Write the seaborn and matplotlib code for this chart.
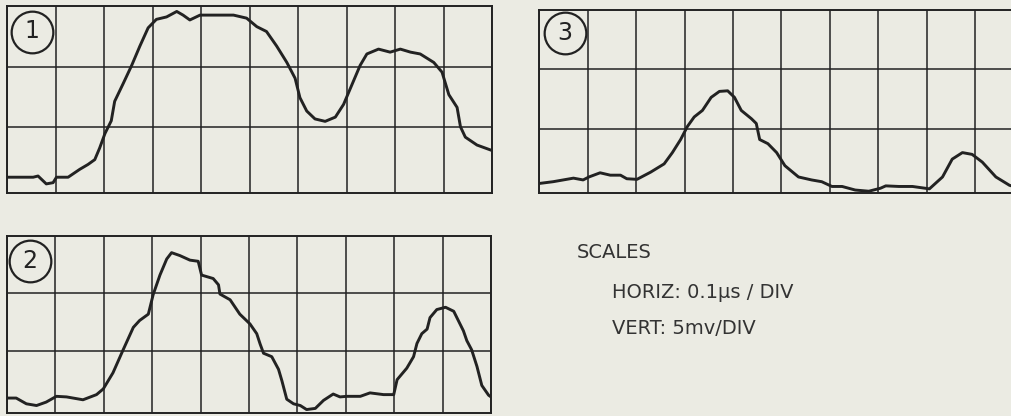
import matplotlib
matplotlib.use("Agg")
import matplotlib.pyplot as plt
import seaborn as sns
import pandas as pd

# trace 1 (grid divisions: x 0-10, y 0-3)
t1_x = [0, 0.54, 0.64, 0.81, 0.95, 1.02, 1.26, 1.50, 1.67, 1.81, 1.91, 2.02, 2.15, 2.22,
        2.40, 2.57, 2.74, 2.91, 3.08, 3.29, 3.50, 3.63, 3.77, 3.98, 4.32, 4.67, 4.94, 5.15,
        5.35, 5.56, 5.77, 5.94, 6.04, 6.18, 6.35, 6.56, 6.77, 6.94, 7.11, 7.28, 7.42, 7.66,
        7.90, 8.11, 8.32, 8.52, 8.80, 8.97, 9.11, 9.28, 9.35, 9.45, 9.69, 10.0]
t1_y = [0.18, 0.18, 0.20, 0.07, 0.09, 0.18, 0.18, 0.31, 0.39, 0.47, 0.66, 0.90, 1.11, 1.43,
        1.73, 2.02, 2.34, 2.64, 2.78, 2.82, 2.91, 2.85, 2.77, 2.85, 2.85, 2.85, 2.80, 2.66,
        2.58, 2.34, 2.07, 1.81, 1.49, 1.27, 1.14, 1.10, 1.17, 1.38, 1.70, 2.02, 2.21, 2.29,
        2.24, 2.29, 2.24, 2.21, 2.07, 1.91, 1.54, 1.33, 1.01, 0.84, 0.71, 0.62]

# trace 2
t2_x = [0, 0.19, 0.40, 0.61, 0.81, 1.02, 1.23, 1.57, 1.85, 1.99, 2.19, 2.40, 2.61, 2.74,
        2.92, 3.02, 3.16, 3.30, 3.40, 3.57, 3.78, 3.95, 4.02, 4.26, 4.37, 4.40, 4.61, 4.81,
        5.02, 5.16, 5.23, 5.30, 5.47, 5.61, 5.68, 5.78, 5.92, 6.06, 6.19, 6.37, 6.54, 6.74,
        6.88, 7.02, 7.30, 7.50, 7.78, 7.99, 8.06, 8.26, 8.40, 8.47, 8.57, 8.68, 8.74, 8.88,
        9.06, 9.23, 9.33, 9.43, 9.50, 9.60, 9.71, 9.81, 9.95, 10.0]
t2_y = [0.18, 0.18, 0.08, 0.05, 0.11, 0.21, 0.20, 0.15, 0.24, 0.34, 0.62, 1.02, 1.41, 1.53,
        1.64, 1.98, 2.32, 2.60, 2.71, 2.66, 2.58, 2.56, 2.32, 2.26, 2.15, 1.99, 1.89, 1.64,
        1.47, 1.30, 1.12, 0.96, 0.90, 0.68, 0.48, 0.16, 0.08, 0.05, -0.02, 0.0, 0.14, 0.25,
        0.20, 0.21, 0.21, 0.27, 0.24, 0.24, 0.50, 0.70, 0.90, 1.13, 1.30, 1.38, 1.58, 1.72,
        1.76, 1.69, 1.52, 1.35, 1.18, 1.02, 0.73, 0.40, 0.23, 0.20]

# trace 3
t3_x = [0, 0.29, 0.71, 0.91, 1.03, 1.26, 1.47, 1.68, 1.81, 2.02, 2.30, 2.58, 2.75, 2.92,
        3.06, 3.20, 3.37, 3.55, 3.72, 3.89, 4.03, 4.17, 4.38, 4.48, 4.55, 4.72, 4.90, 5.07,
        5.35, 5.62, 5.83, 6.04, 6.25, 6.52, 6.80, 7.04, 7.15, 7.42, 7.70, 8.05, 8.32, 8.52,
        8.73, 8.93, 9.14, 9.42, 9.70, 9.90]
t3_y = [0.08, 0.11, 0.17, 0.14, 0.19, 0.26, 0.22, 0.22, 0.16, 0.15, 0.27, 0.41, 0.60, 0.82,
        1.04, 1.20, 1.31, 1.53, 1.63, 1.64, 1.53, 1.31, 1.17, 1.09, 0.82, 0.75, 0.60, 0.38,
        0.19, 0.14, 0.11, 0.03, 0.03, -0.03, -0.05, 0.0, 0.04, 0.03, 0.03, -0.01, 0.19, 0.49,
        0.60, 0.57, 0.44, 0.19, 0.05, 0.0]

labels = ["1", "2", "3"]
scale_lines = ["SCALES", "HORIZ: 0.1\u03bcs / DIV", "VERT: 5mv/DIV"]

sns.set_style("white")
plt.rcParams['font.family'] = ['DejaVu Sans']

bg = "#ebebe3"
ink = "#222222"

fig = plt.figure(figsize=(10.12, 4.16), dpi=100, facecolor=bg)

# axes boxes in figure fractions (panel 3 runs past the right edge like the scan)
boxes = [
    [7 / 1012, 1 - 193 / 416, 485 / 1012, 187 / 416],
    [7 / 1012, 1 - 413 / 416, 484 / 1012, 177 / 416],
    [539 / 1012, 1 - 193 / 416, 485 / 1012, 183 / 416],
]
traces = [(t1_x, t1_y), (t2_x, t2_y), (t3_x, t3_y)]
circ_pos = [(0.52, 2.58), (0.48, 2.56), (0.54, 2.62)]

for box, (tx, ty), lab, (cx, cy) in zip(boxes, traces, labels, circ_pos):
    ax = fig.add_axes(box)
    ax.set_facecolor(bg)
    df = pd.DataFrame({"x": tx, "y": ty})
    sns.lineplot(data=df, x="x", y="y", ax=ax, color=ink, linewidth=2.1,
                 estimator=None, sort=False)
    ax.set_xlim(0, 10)
    ax.set_ylim(-0.08, 3)
    ax.set_xticks(range(11))
    ax.set_yticks([1, 2])
    ax.grid(True, color=ink, linewidth=1.1)
    ax.tick_params(length=0, labelbottom=False, labelleft=False)
    ax.set_xlabel("")
    ax.set_ylabel("")
    for sp in ax.spines.values():
        sp.set_visible(True)
        sp.set_color(ink)
        sp.set_linewidth(1.4)
    ax.plot([cx], [cy], marker="o", markersize=30, mfc="none", mec=ink, mew=1.6)
    ax.text(cx, cy, lab, ha="center", va="center", fontsize=17, color=ink)

# scales note
fig.text(577 / 1012, 1 - 252 / 416, scale_lines[0], ha="left", va="center",
         fontsize=14, color="#333333")
fig.text(612 / 1012, 1 - 292 / 416, scale_lines[1], ha="left", va="center",
         fontsize=14, color="#333333")
fig.text(612 / 1012, 1 - 328 / 416, scale_lines[2], ha="left", va="center",
         fontsize=14, color="#333333")

fig.savefig("out.png", dpi=100, facecolor=bg)
